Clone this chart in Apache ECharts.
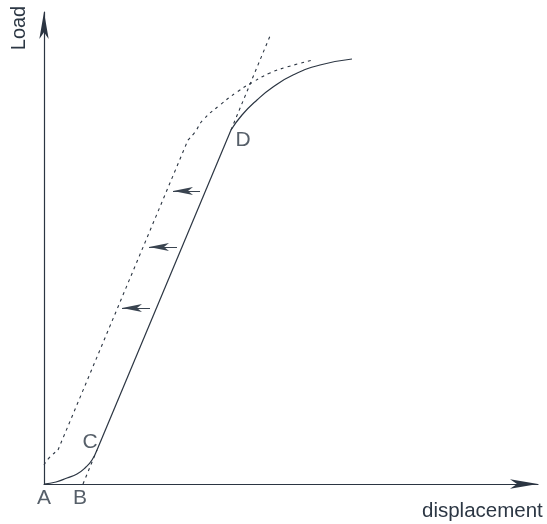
<!DOCTYPE html>
<html><head><meta charset="utf-8">
<script src="https://cdn.jsdelivr.net/npm/echarts@6/dist/echarts.min.js"></script>
<style>html,body{margin:0;padding:0;background:#fff}#c{width:547px;height:524px}</style>
</head><body><div id="c"></div>
<script>
// Measured curve (solid): toe A-C, linear C-D, top beyond D
const measuredToe = [[0,0],[12,2],[23,6],[33,10],[42,17],[48,24],[53,34]];
const measuredLinear = [[53,34],[187,354]];
const measuredTop = [[187,354],[198,369],[213,384],[229,397],[249,409],[276,419],[308,425]];
// Corrected curve (dashed), shifted left
const correctedToe = [[0,19],[5,26],[14,34]];
const correctedLinear = [[14,34],[144,344]];
const correctedTop = [[144,344],[151,352],[159,364],[176,379],[193,392],[209,402],[226,411],[243,417],[269,424]];
// Tangent extension of linear part (dotted): B-C below, D-upward above
const tangentLow = [[39,0],[53,34]];
const tangentHigh = [[187,354],[226,448]];
// Shift arrows (tip, tail)
const arrowTips = [[129,293],[105,237],[78,176]];
const arrowTails = [[156,293],[133,237],[106,176]];
// Point labels
const pointNames = ['A','B','C','D'];
const pointCoords = [[0,0],[39,0],[53,34],[187,354]];
const xAxisName = 'displacement';
const yAxisName = 'Load';

const ink = '#2b3542';
const txt = '#2c3744';
const font = '"Liberation Sans", Arial, sans-serif';
const chart = echarts.init(document.getElementById('c'));
const labelOffsets = [[0,14],[-3,14],[-7,-8],[12,10]];

function line(data, smooth, dashed) {
  return {
    type:'line', data, smooth, showSymbol:false, symbol:'none', silent:true, clip:false,
    lineStyle:{color:ink, width: dashed ? 1.1 : 1.2, type: dashed ? [3,4] : 'solid'}
  };
}
const series = [
  line(measuredToe, true, false),
  line(measuredLinear, false, false),
  line(measuredTop, true, false),
  line(correctedToe, true, true),
  line(correctedLinear, false, true),
  line(correctedTop, true, true),
  line(tangentLow, false, true),
  Object.assign(line(tangentHigh, false, true), {
    markLine:{
      silent:true, symbol:['arrow','none'], symbolSize:[6,20], animation:false,
      label:{show:false},
      lineStyle:{color:'#3a4450', width:1, type:'solid'},
      data: arrowTips.map((t,i)=>[{coord:t},{coord:arrowTails[i]}])
    }
  }),
  {
    type:'scatter', symbolSize:0, silent:true,
    data: pointCoords.map((c,i)=>({value:c, name:pointNames[i],
      label:{offset:labelOffsets[i]}})),
    label:{show:true, position:'inside', formatter:p=>p.name, color:txt, fontSize:21, fontFamily:font}
  }
];
chart.setOption({
  animation:false,
  grid:{left:44, right:9, top:12, bottom:40, containLabel:false},
  xAxis:{type:'value', min:0, max:494, splitLine:{show:false}, axisTick:{show:false}, axisLabel:{show:false},
    axisLine:{show:true, onZero:false, symbol:['none','arrow'], symbolSize:[7,28], lineStyle:{color:ink, width:1.2}}},
  yAxis:{type:'value', min:0, max:472, splitLine:{show:false}, axisTick:{show:false}, axisLabel:{show:false},
    axisLine:{show:true, onZero:false, symbol:['none','arrow'], symbolSize:[7,27], lineStyle:{color:ink, width:1.2}}},
  graphic:[
    {type:'text', left:422, top:501, style:{text:xAxisName, font:'20.5px '+font, fill:txt}},
    {type:'text', x:19, y:28, rotation:Math.PI/2, style:{text:yAxisName, font:'20px '+font, fill:txt, align:'center', verticalAlign:'middle'}}
  ],
  series
});
</script></body></html>
